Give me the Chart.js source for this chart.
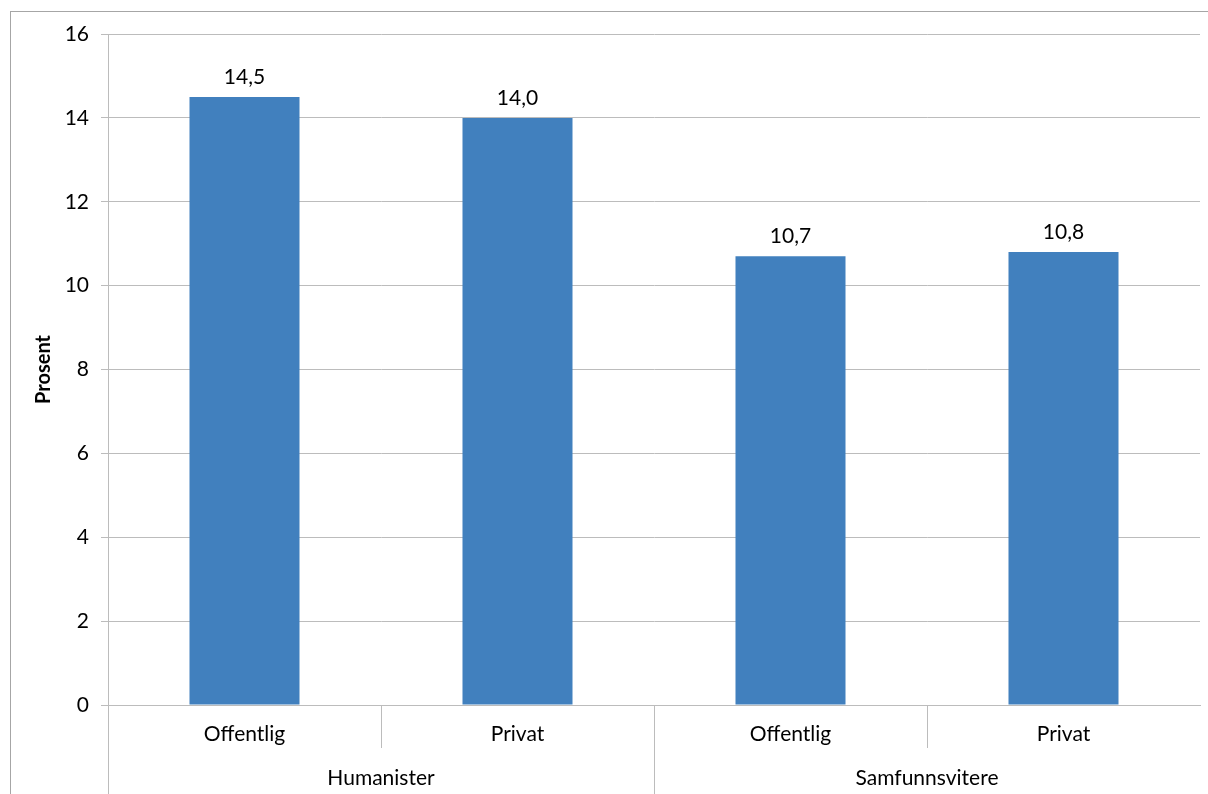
<!DOCTYPE html>
<html><head><meta charset="utf-8">
<script src="https://cdn.jsdelivr.net/npm/chart.js@4/dist/chart.umd.min.js"></script>
<style>html,body{margin:0;padding:0;background:#fff}#wrap{width:1208px;height:794px;position:relative}</style>
</head><body><div id="wrap"><canvas id="c"></canvas></div>
<script>
const categories = ['Offentlig','Privat','Offentlig','Privat'];
const groups = ['Humanister','Samfunnsvitere'];
const values = [14.5, 14.0, 10.7, 10.8];
const yTicks = [0,2,4,6,8,10,12,14,16];
const FONT = 'Lato, "Open Sans", sans-serif';
const FS = 21;
const GRID = '#bcbcbc';

const decor = {
  id:'decor',
  beforeDraw(chart){
    const ctx = chart.ctx;
    ctx.save();
    ctx.strokeStyle = '#a6a6a6'; ctx.lineWidth = 1;
    ctx.strokeRect(10.5, 11.5, 1300, 900);
    ctx.restore();
  },
  afterDraw(chart){
    const ctx = chart.ctx, x = chart.scales.x, ca = chart.chartArea;
    ctx.save();
    ctx.strokeStyle = GRID; ctx.lineWidth = 1;
    const n = categories.length;
    const step = x.getPixelForValue(1) - x.getPixelForValue(0);
    for (let i = 0; i < n; i++) {
      const px = Math.round(x.getPixelForValue(i) - step / 2) + 0.5;
      const bottom = (i % 2 === 0) ? 794 : ca.bottom + 43;
      ctx.beginPath(); ctx.moveTo(px, ca.bottom); ctx.lineTo(px, bottom); ctx.stroke();
    }
    ctx.fillStyle = '#000';
    ctx.font = FS + 'px ' + FONT;
    ctx.textAlign = 'center'; ctx.textBaseline = 'middle';
    groups.forEach((g, gi) => {
      const cx = (x.getPixelForValue(gi*2) + x.getPixelForValue(gi*2+1)) / 2;
      ctx.fillText(g, cx, 778);
    });
    const meta = chart.getDatasetMeta(0);
    meta.data.forEach((bar, i) => {
      ctx.fillText(values[i].toFixed(1).replace('.', ','), bar.x, bar.y - 20);
    });
    ctx.restore();
  }
};

new Chart(document.getElementById('c'), {
  type:'bar',
  data:{ labels: categories, datasets:[{ data: values, backgroundColor:'#4180BE', borderWidth:0, categoryPercentage:1, barPercentage:0.403 }] },
  options:{
    responsive:true, maintainAspectRatio:false, animation:false,
    layout:{ padding:{ left:0, top:34, right:8, bottom:0 } },
    plugins:{ legend:{display:false}, tooltip:{enabled:false} },
    scales:{
      x:{
        grid:{ display:false, drawTicks:false },
        border:{ display:true, color:GRID },
        ticks:{ color:'#000', font:{ family:FONT, size:FS }, padding:17, maxRotation:0 },
        afterFit(s){ s.height = 89; }
      },
      y:{
        min:0, max:16,
        afterBuildTicks(s){ s.ticks = yTicks.map(v => ({value:v})); },
        grid:{ color:GRID, tickLength:7 },
        border:{ display:true, color:GRID },
        ticks:{ color:'#000', font:{ family:FONT, size:FS }, padding:12 },
        title:{ display:true, text:'Prosent', color:'#000', font:{ family:FONT, size:20, weight:'bold' }, padding:{top:32, bottom:0} },
        afterFit(s){ s.width = 108; }
      }
    }
  },
  plugins:[decor]
});
</script></body></html>
